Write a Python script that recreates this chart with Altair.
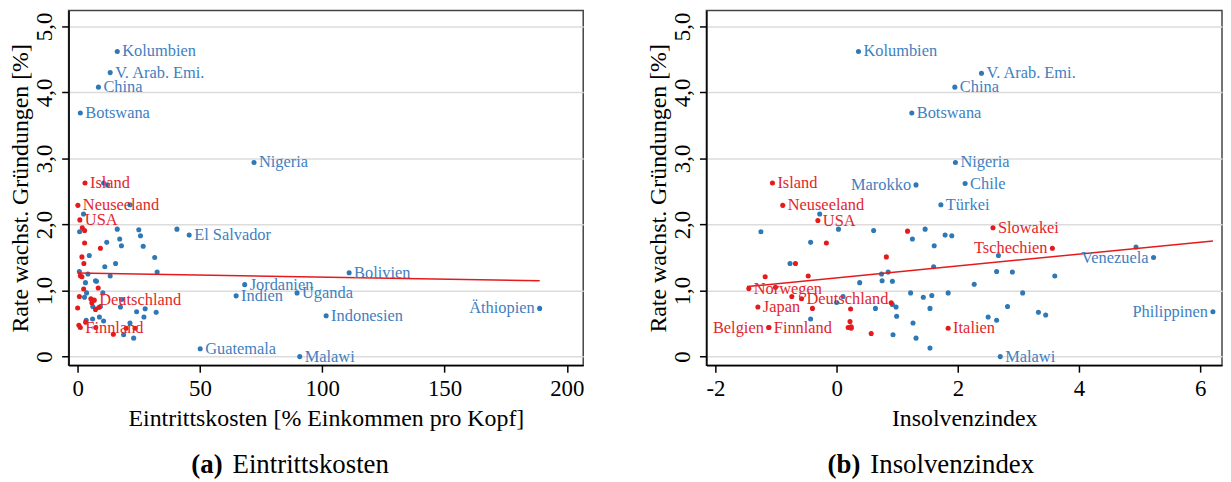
import altair as alt
import pandas as pd

FONT = "'Liberation Serif', 'Times New Roman', Times, serif"
BLUE = "#2f78b6"
RED = "#e41a1c"
BLUE_TXT = "#3f80bf"
RED_TXT = "#e3262b"

# ---------------- Panel (a): Eintrittskosten ----------------
a_blue_x = [40.6, 10.6, 12.2, 21.4, 2.4, 0.8, 16.2, 25.0, 25.7, 17.2, 11.9, 17.9, 26.8, 4.75, 11.1,
            15.5, 31.5, 0.7, 4.2, 7.3, 7.7, 13.3, 32.5, 3.2, 10.3, 3.65, 2.8, 6.2, 9.3, 17.5, 18.0,
            24.1, 27.6, 27.1, 32.1, 3.5, 6.1, 8.9, 10.6, 21.4, 18.8, 22.9]
a_blue_y = [1.93, 2.63, 2.60, 2.30, 2.16, 1.89, 1.93, 1.92, 1.83, 1.78, 1.73, 1.68, 1.67, 1.53, 1.36,
            1.41, 1.50, 1.29, 1.25, 1.15, 1.14, 1.22, 1.28, 1.12, 0.965, 0.965, 0.90, 0.76, 0.76, 0.75,
            0.865, 0.68, 0.725, 0.60, 0.67, 0.55, 0.57, 0.60, 0.54, 0.51, 0.33, 0.28]
a_red_x = [1.9, 2.85, 2.85, 9.3, 1.75, 2.55, 1.1, 1.75, 8.4, 2.45, 0.7, 5.4, 5.8, 0.0, 8.65, 7.3,
           0.5, 3.25, 7.4, 14.6, 19.8, 23.5]
a_red_y = [1.95, 1.91, 1.72, 1.64, 1.51, 1.41, 1.225, 1.21, 1.04, 1.025, 0.91, 0.875, 0.815, 0.735,
           0.745, 0.715, 0.475, 0.52, 0.44, 0.34, 0.43, 0.43]
a_lab_name = ["Kolumbien", "V. Arab. Emi.", "China", "Botswana", "Nigeria", "El Salvador", "Bolivien",
              "Jordanien", "Indien", "Uganda", "Indonesien", "Äthiopien", "Guatemala", "Malawi",
              "Island", "Neuseeland", "USA", "Deutschland", "Finnland"]
a_lab_x = [16.2, 13.3, 8.5, 1.1, 72.1, 45.6, 111.0, 68.3, 64.8, 89.7, 101.6, 188.9, 50.1, 90.8,
           3.0, 0.1, 0.9, 6.8, 1.1]
a_lab_y = [4.62, 4.30, 4.08, 3.69, 2.94, 1.84, 1.27, 1.09, 0.92, 0.965, 0.62, 0.73, 0.12, 0.0,
           2.63, 2.29, 2.07, 0.855, 0.44]
a_lab_grp = ["b"] * 14 + ["r"] * 5
a_lab_side = ["r"] * 11 + ["l"] + ["r"] * 7
a_fit_x = [0.0, 188.9]
a_fit_y = [1.266, 1.15]

# ---------------- Panel (b): Insolvenzindex ----------------
b_blue_x = [-0.28, -1.25, 0.03, 0.61, 1.46, 1.79, 1.90, 1.25, 1.61, -0.43, -0.77, 0.38, 0.74, 0.85,
            0.75, 0.92, 1.60, 0.105, 0.0, -0.43, 0.64, 0.92, 0.98, 0.99, 1.22, 1.43, 1.57, 1.54,
            1.84, 2.27, 0.93, 1.26, 1.31, 1.54, 2.67, 2.64, 2.90, 2.82, 2.50, 2.64, 3.60, 3.07,
            3.33, 3.45, 4.94]
b_blue_y = [2.16, 1.89, 1.93, 1.91, 1.93, 1.84, 1.83, 1.78, 1.68, 1.73, 1.41, 1.12, 1.25, 1.28,
            1.15, 1.14, 1.36, 0.91, 0.82, 0.57, 0.73, 0.79, 0.75, 0.61, 0.965, 0.90, 0.925, 0.73,
            0.965, 1.095, 0.33, 0.51, 0.28, 0.13, 1.53, 1.29, 1.28, 0.76, 0.60, 0.55, 1.22, 0.965,
            0.67, 0.63, 1.66]
b_red_x = [1.17, -0.17, 0.82, -0.68, -1.18, -0.47, -1.01, -0.74, -0.40, 0.23, 0.90, 0.22, 0.24,
           0.19, 0.24, 0.57]
b_red_y = [1.90, 1.72, 1.51, 1.41, 1.21, 1.22, 1.05, 0.91, 0.73, 0.72, 0.815, 0.53, 0.45, 0.44,
           0.43, 0.35]
b_lab_name = ["Kolumbien", "V. Arab. Emi.", "China", "Botswana", "Nigeria", "Marokko", "Chile",
              "Türkei", "Venezuela", "Philippinen", "Malawi",
              "Island", "Neuseeland", "USA", "Norwegen", "Deutschland", "Japan", "Belgien",
              "Finnland", "Italien", "Slowakei", "Tschechien"]
b_lab_x = [0.36, 2.39, 1.95, 1.24, 1.96, 1.31, 2.12, 1.72, 5.23, 6.21, 2.70,
           -1.06, -0.89, -0.31, -1.45, -0.58, -1.30, -1.12, -1.12, 1.84, 2.58, 3.56]
b_lab_y = [4.62, 4.29, 4.08, 3.69, 2.94, 2.60, 2.62, 2.30, 1.50, 0.68, 0.0,
           2.63, 2.29, 2.06, 1.03, 0.875, 0.75, 0.44, 0.44, 0.43, 1.95, 1.64]
b_lab_grp = ["b"] * 11 + ["r"] * 11
b_lab_side = ["r", "r", "r", "r", "r", "l", "r", "r", "l", "l", "r",
              "r", "r", "r", "r", "r", "r", "l", "r", "r", "r", "l"]
b_fit_x = [-1.48, 6.21]
b_fit_y = [1.06, 1.75]

Y_TICKS = [0, 1, 2, 3, 4, 5]
A_TICKS = [0, 50, 100, 150, 200]
B_TICKS = [-2, 0, 2, 4, 6]


def build_df(bx, by, rx, ry, ln, lx, ly, lg, ls):
    rows = []
    for x, y in zip(bx, by):
        rows.append({"x": x, "y": y, "g": "b", "lab": "", "side": ""})
    for x, y in zip(rx, ry):
        rows.append({"x": x, "y": y, "g": "r", "lab": "", "side": ""})
    for n, x, y, g, s in zip(ln, lx, ly, lg, ls):
        rows.append({"x": x, "y": y, "g": g, "lab": n, "side": s})
    return pd.DataFrame(rows)


def panel(df, fit_x, fit_y, xdomain, xticks, xtitle, cap_a, cap_b, width):
    xenc = alt.X("x:Q", scale=alt.Scale(domain=xdomain, nice=False, zero=False),
                 axis=alt.Axis(values=xticks, title=xtitle, grid=False,
                               labelExpr="'' + datum.value"))
    yenc = alt.Y("y:Q", scale=alt.Scale(domain=[-0.13, 5.24], nice=False, zero=False),
                 axis=alt.Axis(values=Y_TICKS, title="Rate wachst. Gründungen [%]",
                               labelExpr="datum.value == 0 ? '0' : replace(format(datum.value, '.1f'), '.', ',')",
                               labelAngle=-90, labelAlign="center", labelBaseline="alphabetic",
                               grid=True))
    base = alt.Chart(df)
    layers = []
    for g, col in (("b", BLUE), ("r", RED)):
        layers.append(base.transform_filter(f"datum.g == '{g}'")
                      .mark_circle(size=26, opacity=1, color=col)
                      .encode(x=xenc, y=yenc))
    fit = alt.Chart(pd.DataFrame({"x": fit_x, "y": fit_y})).mark_line(
        color=RED, strokeWidth=1.5).encode(x="x:Q", y="y:Q")
    layers.append(fit)
    for g, col in (("b", BLUE_TXT), ("r", RED_TXT)):
        for s, al, dx in (("r", "left", 5), ("l", "right", -5)):
            layers.append(base.transform_filter(f"datum.g == '{g}' && datum.side == '{s}'")
                          .mark_text(align=al, dx=dx, baseline="middle", font=FONT,
                                     fontSize=16.5, color=col)
                          .encode(x="x:Q", y="y:Q", text="lab:N"))
    capdf = pd.DataFrame({"t": [cap_a], "u": [cap_b]})
    layers.append(alt.Chart(capdf).mark_text(align="right", baseline="middle", font=FONT,
                                             fontSize=27, fontWeight="bold", color="black")
                  .encode(x=alt.value(155), y=alt.value(458), text="t:N"))
    layers.append(alt.Chart(capdf).mark_text(align="left", baseline="middle", font=FONT,
                                             fontSize=27, color="black")
                  .encode(x=alt.value(165), y=alt.value(458), text="u:N"))
    return alt.layer(*layers).properties(width=width, height=357)


df_a = build_df(a_blue_x, a_blue_y, a_red_x, a_red_y, a_lab_name, a_lab_x, a_lab_y, a_lab_grp, a_lab_side)
df_b = build_df(b_blue_x, b_blue_y, b_red_x, b_red_y, b_lab_name, b_lab_x, b_lab_y, b_lab_grp, b_lab_side)

pa = panel(df_a, a_fit_x, a_fit_y, [-3.7, 206.7], A_TICKS,
           "Eintrittskosten [% Einkommen pro Kopf]", "(a)", "Eintrittskosten", 518)
pb = panel(df_b, b_fit_x, b_fit_y, [-2.15, 6.36], B_TICKS,
           "Insolvenzindex", "(b)", "Insolvenzindex", 519)

chart = alt.hconcat(pa, pb, spacing=61).configure(
    font=FONT, padding=0
).configure_view(
    stroke="#444", strokeWidth=1.5
).configure_axis(
    labelFont=FONT, titleFont=FONT, labelFontSize=23, titleFontSize=24,
    labelColor="black", titleColor="black", titleFontWeight="normal",
    domainColor="black", domainWidth=1.5, tickColor="black", tickWidth=1.5, tickSize=7,
    gridColor="#dcdcdc", gridWidth=1.5
).configure_axisY(
    labelPadding=10, titlePadding=1
).configure_axisX(
    labelPadding=5, titlePadding=7
)

chart.save("out.html", embed_options={"renderer": "svg", "actions": False})
